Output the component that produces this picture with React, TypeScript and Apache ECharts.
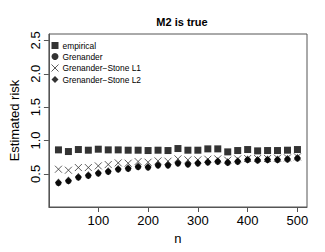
import React, { useEffect, useRef } from "react";
import * as echarts from "echarts";

const nValues = [20, 40, 60, 80, 100, 120, 140, 160, 180, 200, 220, 240, 260, 280, 300, 320, 340, 360, 380, 400, 420, 440, 460, 480, 500];
const empirical = [0.86, 0.835, 0.865, 0.855, 0.87, 0.86, 0.86, 0.855, 0.855, 0.85, 0.855, 0.85, 0.88, 0.855, 0.855, 0.875, 0.875, 0.83, 0.85, 0.865, 0.845, 0.85, 0.85, 0.855, 0.865];
const grenander = [0.36, 0.39, 0.445, 0.47, 0.505, 0.53, 0.565, 0.575, 0.6, 0.595, 0.625, 0.625, 0.655, 0.64, 0.655, 0.67, 0.68, 0.665, 0.68, 0.705, 0.7, 0.705, 0.705, 0.715, 0.73];
const stoneL1 = [0.57, 0.555, 0.595, 0.595, 0.62, 0.64, 0.665, 0.66, 0.685, 0.675, 0.695, 0.69, 0.725, 0.71, 0.71, 0.72, 0.725, 0.705, 0.725, 0.73, 0.73, 0.73, 0.735, 0.74, 0.755];
const stoneL2 = [0.37, 0.4, 0.455, 0.48, 0.515, 0.54, 0.575, 0.585, 0.61, 0.605, 0.635, 0.635, 0.665, 0.65, 0.665, 0.68, 0.69, 0.675, 0.69, 0.715, 0.71, 0.715, 0.715, 0.725, 0.74];
const xTicks = [100, 200, 300, 400, 500];
const yTicks = [0.5, 1.0, 1.5, 2.0, 2.5];
const seriesNames = ["empirical", "Grenander", "Grenander\u2212Stone L1", "Grenander\u2212Stone L2"];

const FONT = "Liberation Sans, Arial, Helvetica, sans-serif";

export default function App() {
  const ref = useRef<HTMLDivElement>(null);
  useEffect(() => {
    if (!ref.current) return;
    const chart = echarts.init(ref.current, null, { renderer: "svg" });
    const pairs = (vals: number[]) => vals.map((v, i) => [nValues[i], v]);
    const xPath = "path://M0,0L10,10M10,0L0,10";
    chart.setOption({
      animation: false,
      title: {
        text: "M2 is true",
        left: 177,
        top: 11,
        textAlign: "center",
        textStyle: { fontFamily: FONT, fontSize: 11, fontWeight: "bold", color: "#000" },
      },
      legend: {
        orient: "vertical",
        left: 49,
        top: 40,
        padding: 0,
        itemWidth: 7,
        itemHeight: 7,
        itemGap: 0,
        textStyle: { fontFamily: FONT, fontSize: 8.4, lineHeight: 11, color: "#000", padding: [0, 0, 0, -1] },
        data: [
          { name: seriesNames[0], icon: "rect" },
          { name: seriesNames[1], icon: "circle" },
          { name: seriesNames[2], icon: xPath, itemStyle: { color: "none", borderColor: "#333", borderWidth: 1 } },
          { name: seriesNames[3], icon: "diamond" },
        ],
      },
      grid: {
        left: 47,
        right: 18,
        top: 34,
        bottom: 45,
        show: true,
        borderColor: "#555",
        borderWidth: 1,
        backgroundColor: "transparent",
      },
      xAxis: {
        type: "value",
        min: 0.8,
        max: 519.2,
        name: "n",
        nameLocation: "middle",
        nameGap: 19,
        nameTextStyle: { fontFamily: FONT, fontSize: 13, color: "#000" },
        splitLine: { show: false },
        axisLine: { show: true, onZero: false, lineStyle: { color: "#555" } },
        axisTick: { show: true, customValues: xTicks, length: 5, lineStyle: { color: "#555" } },
        axisLabel: {
          customValues: xTicks,
          fontFamily: FONT,
          fontSize: 13,
          color: "#000",
          margin: 7,
        },
      },
      yAxis: {
        type: "value",
        min: 0.004,
        max: 2.596,
        name: "Estimated risk",
        nameLocation: "middle",
        nameGap: 26,
        nameRotate: 90,
        nameTextStyle: { fontFamily: FONT, fontSize: 13, color: "#000" },
        splitLine: { show: false },
        axisLine: { show: true, onZero: false, lineStyle: { color: "#555" } },
        axisTick: { show: true, customValues: yTicks, length: 5, lineStyle: { color: "#555" } },
        axisLabel: {
          customValues: yTicks,
          rotate: 90,
          fontFamily: FONT,
          fontSize: 13,
          color: "#000",
          margin: 7,
          formatter: (v: number) => v.toFixed(1),
        },
      },
      series: [
        {
          name: seriesNames[0],
          type: "scatter",
          symbol: "rect",
          symbolSize: 7,
          itemStyle: { color: "#000" },
          data: pairs(empirical),
        },
        {
          name: seriesNames[1],
          type: "scatter",
          symbol: "circle",
          symbolSize: 6,
          itemStyle: { color: "#000" },
          data: pairs(grenander),
        },
        {
          name: seriesNames[2],
          type: "scatter",
          symbol: xPath,
          symbolSize: 7,
          itemStyle: { color: "none", borderColor: "#333", borderWidth: 1 },
          data: pairs(stoneL1),
        },
        {
          name: seriesNames[3],
          type: "scatter",
          symbol: "diamond",
          symbolSize: [7, 8],
          itemStyle: { color: "#000" },
          data: pairs(stoneL2),
        },
      ],
    });
    return () => chart.dispose();
  }, []);
  return <div ref={ref} style={{ width: 325, height: 252, margin: -8 }} />;
}
